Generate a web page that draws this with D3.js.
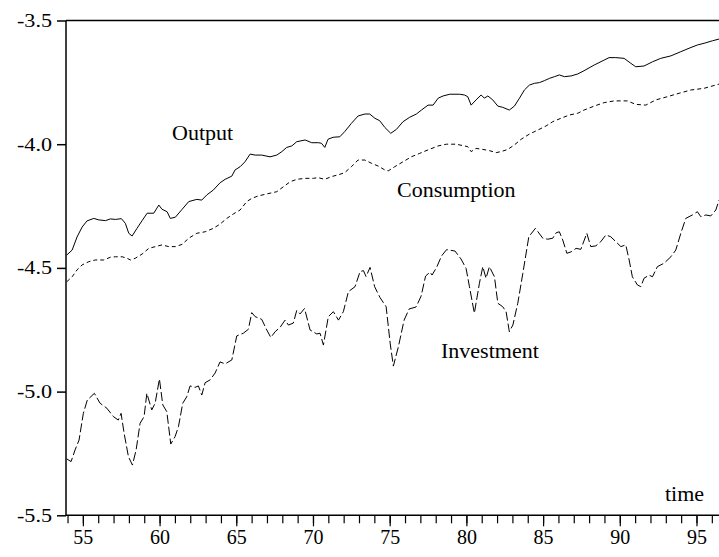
<!DOCTYPE html>
<html>
<head>
<meta charset="utf-8">
<script src="https://cdn.jsdelivr.net/npm/d3@7"></script>
<style>
  html, body { margin: 0; padding: 0; background: #fff; }
  svg { display: block; }
  text { font-family: "Liberation Serif", "Times New Roman", serif; fill: #000; }
</style>
</head>
<body>
<div id="chart"></div>
<script>
// ---- data (log levels; x in years 19xx) ----
const outputYears = [53.95,54.30,54.62,54.95,55.27,55.71,56.04,56.47,56.79,57.12,57.51,57.77,57.99,58.21,58.53,58.86,59.19,59.62,59.95,60.16,60.49,60.70,61.03,61.47,61.90,62.43,62.75,63.08,63.51,63.94,64.27,64.71,64.92,65.25,65.57,65.90,66.23,66.66,67.20,67.64,67.97,68.29,68.62,68.94,69.49,69.92,70.35,70.55,70.77,70.98,71.31,71.75,72.07,72.50,72.94,73.38,73.70,74.03,74.35,74.68,75.07,75.44,75.87,76.31,76.74,77.07,77.50,77.83,78.16,78.48,78.92,79.54,79.87,80.09,80.31,80.63,80.96,81.17,81.40,81.72,82.05,82.37,82.80,83.13,83.46,83.78,84.11,84.43,84.76,85.09,85.41,85.74,86.06,86.39,86.83,87.26,87.67,88.33,88.98,89.30,89.74,90.28,90.72,91.04,91.58,92.13,92.67,93.33,93.98,94.52,95.06,95.61,96.04,96.47];
const outputValues = [-4.448,-4.428,-4.375,-4.335,-4.310,-4.300,-4.306,-4.309,-4.302,-4.304,-4.301,-4.320,-4.360,-4.371,-4.340,-4.309,-4.279,-4.279,-4.246,-4.263,-4.273,-4.300,-4.295,-4.263,-4.232,-4.223,-4.226,-4.205,-4.185,-4.156,-4.142,-4.129,-4.104,-4.091,-4.071,-4.040,-4.044,-4.044,-4.051,-4.044,-4.030,-4.013,-4.007,-3.990,-3.983,-3.994,-3.994,-3.996,-4.013,-3.980,-3.972,-3.970,-3.949,-3.916,-3.886,-3.878,-3.878,-3.895,-3.905,-3.932,-3.956,-3.940,-3.909,-3.891,-3.878,-3.862,-3.842,-3.842,-3.814,-3.805,-3.798,-3.798,-3.801,-3.808,-3.842,-3.821,-3.801,-3.814,-3.805,-3.821,-3.846,-3.851,-3.862,-3.846,-3.814,-3.781,-3.761,-3.754,-3.751,-3.743,-3.734,-3.727,-3.720,-3.727,-3.724,-3.716,-3.703,-3.680,-3.660,-3.650,-3.650,-3.653,-3.673,-3.687,-3.684,-3.667,-3.653,-3.643,-3.626,-3.612,-3.599,-3.590,-3.582,-3.575];

const consumptionYears = [53.95,54.30,54.62,54.95,55.38,55.81,56.36,56.79,57.12,57.56,57.88,58.10,58.42,58.86,59.30,59.73,60.16,60.60,61.03,61.47,61.90,62.43,62.97,63.51,63.94,64.38,64.81,65.25,65.68,66.01,66.44,66.99,67.64,68.07,68.51,68.94,69.49,70.03,70.33,70.77,71.20,71.64,72.07,72.50,72.94,73.38,73.81,74.24,74.68,74.90,75.33,75.87,76.41,76.96,77.50,78.16,78.70,79.33,79.87,80.09,80.31,80.63,81.07,81.50,81.94,82.26,82.70,83.13,83.57,84.11,84.65,85.20,85.63,86.17,86.71,87.26,87.67,88.33,88.98,89.63,90.50,91.04,91.70,92.35,93.10,93.87,94.63,95.50,96.47];
const consumptionValues = [-4.556,-4.536,-4.508,-4.488,-4.475,-4.468,-4.468,-4.457,-4.455,-4.455,-4.461,-4.468,-4.461,-4.444,-4.421,-4.414,-4.407,-4.414,-4.414,-4.405,-4.380,-4.360,-4.354,-4.340,-4.323,-4.300,-4.282,-4.266,-4.232,-4.219,-4.209,-4.201,-4.192,-4.172,-4.152,-4.142,-4.138,-4.138,-4.135,-4.142,-4.131,-4.124,-4.115,-4.091,-4.064,-4.064,-4.077,-4.088,-4.104,-4.108,-4.091,-4.071,-4.051,-4.037,-4.023,-4.007,-4.000,-4.000,-4.007,-4.010,-4.030,-4.017,-4.021,-4.026,-4.034,-4.030,-4.021,-4.003,-3.980,-3.959,-3.943,-3.926,-3.909,-3.895,-3.882,-3.875,-3.862,-3.846,-3.832,-3.825,-3.825,-3.839,-3.842,-3.821,-3.808,-3.794,-3.781,-3.774,-3.757];

const investmentYears = [53.95,54.23,54.49,54.75,55.03,55.29,55.75,56.12,56.56,56.99,57.31,57.49,57.69,57.97,58.23,58.47,58.73,58.99,59.17,59.49,59.71,59.99,60.21,60.47,60.73,61.01,61.23,61.51,61.77,61.99,62.31,62.53,62.75,62.97,63.29,63.62,63.94,64.27,64.71,65.03,65.46,65.79,66.01,66.23,66.66,66.99,67.25,67.53,67.86,68.18,68.40,68.72,68.94,69.16,69.45,69.81,70.25,70.46,70.68,71.00,71.33,71.66,71.98,72.31,72.74,73.07,73.29,73.46,73.72,74.02,74.37,74.77,75.03,75.24,75.57,75.94,76.27,76.72,77.05,77.34,77.63,77.76,78.06,78.38,78.71,79.26,79.65,79.98,80.20,80.52,80.85,81.07,81.28,81.50,81.83,82.05,82.37,82.59,82.80,83.03,83.35,83.68,84.07,84.50,84.98,85.31,85.63,85.85,86.06,86.28,86.55,86.83,87.15,87.46,87.85,88.11,88.44,88.76,89.09,89.41,89.74,90.07,90.39,90.61,90.82,91.15,91.37,91.58,91.91,92.13,92.45,92.89,93.33,93.65,93.98,94.30,94.73,95.06,95.28,95.61,95.93,96.26,96.47];
const investmentValues = [-5.272,-5.283,-5.236,-5.196,-5.088,-5.034,-5.007,-5.047,-5.067,-5.101,-5.115,-5.088,-5.169,-5.263,-5.297,-5.236,-5.128,-5.101,-5.007,-5.074,-5.047,-4.949,-5.054,-5.081,-5.212,-5.182,-5.142,-5.047,-5.021,-4.977,-4.983,-4.977,-5.014,-4.964,-4.953,-4.925,-4.880,-4.888,-4.872,-4.775,-4.764,-4.748,-4.681,-4.697,-4.708,-4.751,-4.781,-4.758,-4.740,-4.711,-4.731,-4.723,-4.672,-4.686,-4.664,-4.751,-4.767,-4.764,-4.812,-4.697,-4.677,-4.711,-4.677,-4.596,-4.576,-4.515,-4.511,-4.535,-4.498,-4.576,-4.620,-4.657,-4.804,-4.897,-4.818,-4.711,-4.666,-4.658,-4.614,-4.533,-4.517,-4.529,-4.498,-4.452,-4.426,-4.432,-4.464,-4.502,-4.576,-4.683,-4.562,-4.495,-4.542,-4.495,-4.536,-4.643,-4.657,-4.677,-4.758,-4.731,-4.643,-4.522,-4.374,-4.340,-4.380,-4.384,-4.380,-4.358,-4.354,-4.387,-4.441,-4.435,-4.421,-4.425,-4.360,-4.414,-4.411,-4.394,-4.367,-4.374,-4.394,-4.414,-4.407,-4.468,-4.536,-4.569,-4.576,-4.542,-4.529,-4.536,-4.495,-4.481,-4.455,-4.428,-4.360,-4.300,-4.286,-4.273,-4.293,-4.286,-4.290,-4.266,-4.226];

const yTickValues = [-5.5, -5.0, -4.5, -4.0, -3.5];
const xMinorTicks = d3.range(54, 97, 1);
const xLabelTicks = [55, 60, 65, 70, 75, 80, 85, 90, 95];
const seriesNames = ["Output", "Consumption", "Investment"];
const axisTitle = "time";

// ---- layout ----
const W = 719, H = 557;
const mLeft = 66, mRight = 719.5, mTop = 20.5, mBottom = 515.3;

const svg = d3.select("#chart").append("svg").attr("width", W).attr("height", H);

const x = d3.scaleLinear().domain([53.9, 96.5]).range([mLeft, mRight]);
const y = d3.scaleLinear().domain([-5.5, -3.5]).range([mBottom, mTop]);

// frame: top border
svg.append("line").attr("x1", mLeft).attr("x2", W).attr("y1", mTop).attr("y2", mTop)
  .attr("stroke", "#000").attr("stroke-width", 1.5);

// y axis
const fmtY = d3.format(".1f");
const yAxis = d3.axisLeft(y).tickValues(yTickValues).tickSize(9).tickPadding(5)
  .tickFormat(d => fmtY(d).replace("\u2212", "-"));
const gy = svg.append("g").attr("transform", `translate(${mLeft},0)`).call(yAxis);
gy.select(".domain").attr("stroke-width", 1.5).attr("d", `M0,${mTop}V${mBottom}`);
gy.selectAll(".tick line").attr("stroke-width", 1.5);
gy.selectAll(".tick text").attr("font-size", 19)
  .attr("textLength", 35).attr("lengthAdjust", "spacingAndGlyphs");

// x axis minor ticks
const xAxisMinor = d3.axisBottom(x).tickValues(xMinorTicks).tickSize(8).tickFormat("");
const gxm = svg.append("g").attr("transform", `translate(0,${mBottom})`).call(xAxisMinor);
gxm.select(".domain").attr("stroke-width", 1.5).attr("d", `M${mLeft},0H${W}`);
gxm.selectAll(".tick line").attr("stroke-width", 1.2);

// x axis labelled ticks
const xAxisMajor = d3.axisBottom(x).tickValues(xLabelTicks).tickSize(11).tickPadding(4)
  .tickFormat(d3.format("d"));
const gx = svg.append("g").attr("transform", `translate(0,${mBottom})`).call(xAxisMajor);
gx.select(".domain").remove();
gx.selectAll(".tick line").attr("stroke-width", 1.2);
gx.selectAll(".tick text").attr("font-size", 20);

// lines
const line = d3.line().x(d => x(d[0])).y(d => y(d[1]));
const series = [
  { years: outputYears, values: outputValues, dash: null },
  { years: consumptionYears, values: consumptionValues, dash: "4,3" },
  { years: investmentYears, values: investmentValues, dash: "9,3" }
];
series.forEach(s => {
  const pts = s.years.map((yr, i) => [yr, s.values[i]]);
  svg.append("path").datum(pts).attr("d", line)
    .attr("fill", "none").attr("stroke", "#000").attr("stroke-width", 1)
    .attr("stroke-dasharray", s.dash);
});

// labels
function addLabel(text, xp, yp) {
  svg.append("text").attr("x", xp).attr("y", yp).attr("font-size", 22).text(text);
}
addLabel(seriesNames[0], 172, 140);
addLabel(seriesNames[1], 397, 197);
addLabel(seriesNames[2], 441, 358);
addLabel(axisTitle, 665, 501);
</script>
</body>
</html>
